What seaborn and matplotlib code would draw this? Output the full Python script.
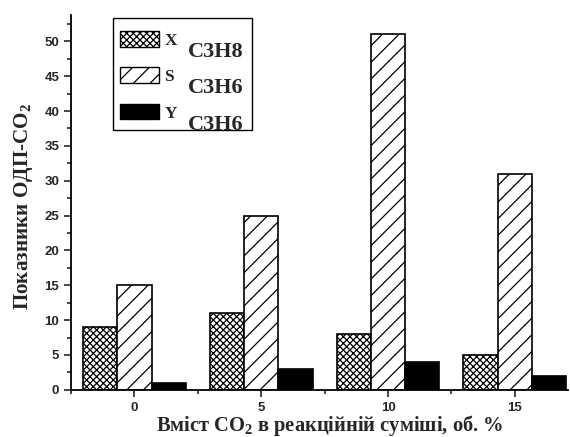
import numpy as np
import pandas as pd
import matplotlib
matplotlib.use('Agg')
import matplotlib.pyplot as plt
from matplotlib.patches import Patch, Rectangle
from matplotlib.ticker import MultipleLocator
import seaborn as sns

###########################################################################################
# Data
###########################################################################################

co2_content = [0, 5, 10, 15]
x_c3h8 = [9, 11, 8, 5]
s_c3h6 = [15, 25, 51, 31]
y_c3h6 = [1, 3, 4, 2]

series_names = ['X', 'S', 'Y']
series_subs = ['C3H8', 'C3H6', 'C3H6']

df = pd.DataFrame({
    'co2': co2_content * 3,
    'value': x_c3h8 + s_c3h6 + y_c3h6,
    'param': ['X'] * 4 + ['S'] * 4 + ['Y'] * 4,
})

###########################################################################################
# Plot
###########################################################################################

sns.set_style('ticks')
plt.rcParams['mathtext.fontset'] = 'custom'
plt.rcParams['mathtext.rm'] = 'Liberation Serif:bold'
plt.rcParams['mathtext.bf'] = 'Liberation Serif:bold'
plt.rcParams['hatch.linewidth'] = 0.9

fig = plt.figure(figsize=(5.7, 4.37), dpi=100)
ax = fig.add_axes([0.1246, 0.108, 0.872, 0.858])

colors = {'X': 'white', 'S': 'white', 'Y': 'black'}
hatches = {'X': 'xxxxx', 'S': '//', 'Y': ''}

sns.barplot(data=df, x='co2', y='value', hue='param', hue_order=series_names,
            palette=colors, native_scale=True, width=0.81, gap=0, saturation=1,
            edgecolor='black', linewidth=1.2, legend=False, ax=ax)

# hatch the bars per series (left bar = X, middle = S, right = Y)
for patch in ax.patches:
    cx = patch.get_x() + patch.get_width() / 2
    off = min(co2_content, key=lambda c: abs(c - cx))
    d = cx - off
    if d < -0.5:
        patch.set_hatch(hatches['X'])
    elif d > 0.5:
        patch.set_hatch(hatches['Y'])
    else:
        patch.set_hatch(hatches['S'])

ax.set_xlim(-2.5, 17.1)
ax.set_ylim(0, 53.8)
ax.xaxis.set_major_locator(MultipleLocator(5))
ax.xaxis.set_minor_locator(MultipleLocator(2.5))
ax.yaxis.set_major_locator(MultipleLocator(5))
ax.yaxis.set_minor_locator(MultipleLocator(2.5))
ax.tick_params(which='major', direction='out', length=5, width=1.2)
ax.tick_params(which='minor', direction='out', length=3, width=1.2)
for lbl in ax.get_xticklabels() + ax.get_yticklabels():
    lbl.set_fontfamily('Liberation Sans')
    lbl.set_fontweight('bold')
    lbl.set_fontsize(9.5)

sns.despine(ax=ax)
for sp in ['left', 'bottom']:
    ax.spines[sp].set_linewidth(1.3)
    ax.spines[sp].set_color('black')

ax.set_xlabel('Вміст СО$\\mathbf{_2}$ в реакційній суміші, об. %',
              fontfamily='Liberation Serif', fontweight='bold', fontsize=14.8)
ax.xaxis.set_label_coords(0.521, -0.0625)
ax.set_ylabel('Показники ОДП-СО$\\mathbf{_2}$',
              fontfamily='Liberation Serif', fontweight='bold', fontsize=15.2)
ax.yaxis.set_label_coords(-0.072, 0.489)

# legend frame drawn separately so it can hold the large subscripts
frame = Rectangle((0.0845, 0.693), 0.2797, 0.299, transform=ax.transAxes,
                  facecolor='white', edgecolor='black', linewidth=1.0,
                  zorder=4.9, clip_on=False)
ax.add_patch(frame)

handles = [Patch(facecolor='white', edgecolor='black', hatch=hatches['X'], linewidth=1),
           Patch(facecolor='white', edgecolor='black', hatch=hatches['S'], linewidth=1),
           Patch(facecolor='black', edgecolor='black', linewidth=1)]
leg = ax.legend(handles, series_names, loc='upper left', bbox_to_anchor=(0.099, 0.957),
                borderaxespad=0, borderpad=0, frameon=False,
                prop={'family': 'Liberation Serif', 'weight': 'bold', 'size': 12.5},
                handlelength=2.25, handleheight=1.0, handletextpad=0.3,
                labelspacing=1.08)
leg.set_zorder(6)
for txt, sub in zip(leg.get_texts(), series_subs):
    ax.annotate(sub, xy=(0, 0), xycoords=txt, xytext=(23, -8),
                textcoords='offset pixels', va='baseline', ha='left',
                fontfamily='Liberation Serif', fontweight='bold', fontsize=16,
                annotation_clip=False, zorder=10)

fig.savefig('out.png', dpi=100)
